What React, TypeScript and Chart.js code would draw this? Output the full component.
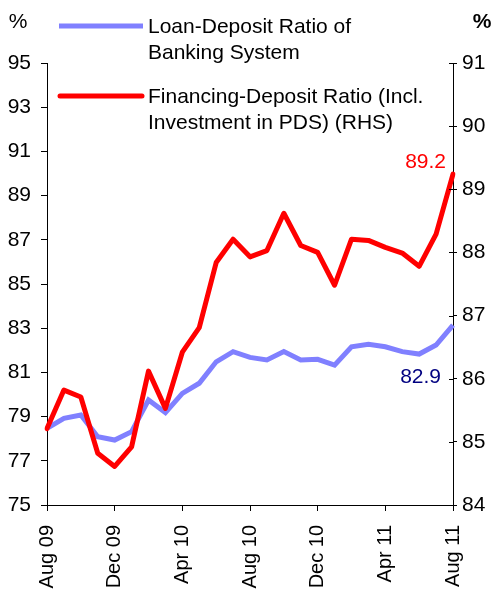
import React, { useEffect, useRef } from "react";
import { Chart, registerables } from "chart.js";

Chart.register(...registerables);

const months: string[] = [
  "Aug 09", "Sep 09", "Oct 09", "Nov 09", "Dec 09", "Jan 10", "Feb 10", "Mar 10",
  "Apr 10", "May 10", "Jun 10", "Jul 10", "Aug 10", "Sep 10", "Oct 10", "Nov 10",
  "Dec 10", "Jan 11", "Feb 11", "Mar 11", "Apr 11", "May 11", "Jun 11", "Jul 11", "Aug 11",
];

const loanDeposit: number[] = [
  78.47, 78.92, 79.07, 78.09, 77.94, 78.32, 79.75, 79.18, 80.05, 80.51, 81.48, 81.94,
  81.68, 81.56, 81.94, 81.56, 81.59, 81.33, 82.16, 82.27, 82.16, 81.94, 81.83, 82.24, 83.14,
];

const financingDeposit: number[] = [
  85.21, 85.82, 85.71, 84.82, 84.61, 84.92, 86.12, 85.53, 86.42, 86.81, 87.84, 88.21,
  87.93, 88.03, 88.62, 88.11, 88.0, 87.48, 88.21, 88.19, 88.08, 87.99, 87.78, 88.29, 89.24,
];

const loanLabel = ["Loan-Deposit Ratio of", "Banking System"];
const financingLabel = ["Financing-Deposit Ratio (Incl.", "Investment in PDS) (RHS)"];
const lastLoanText = "82.9";
const lastFinancingText = "89.2";

const FONT = "'Liberation Sans', Arial, sans-serif";
const BLUE = "#8080FF";
const RED = "#FF0000";

export default function App() {
  const ref = useRef<HTMLCanvasElement | null>(null);

  useEffect(() => {
    document.body.style.margin = "0";
    const canvas = ref.current;
    if (!canvas) return;

    const overlay = {
      id: "overlay",
      afterDraw(chart: any) {
        const ctx = chart.ctx;
        const y1 = chart.scales.y1;
        ctx.save();
        // inward tick marks on right axis
        ctx.strokeStyle = "#000";
        ctx.lineWidth = 1;
        y1.ticks.forEach((t: any) => {
          const yy = Math.round(y1.getPixelForValue(t.value)) + 0.5;
          ctx.beginPath();
          ctx.moveTo(y1.left - 4, yy);
          ctx.lineTo(y1.left, yy);
          ctx.stroke();
        });

        // legend
        ctx.lineWidth = 5;
        ctx.strokeStyle = BLUE;
        ctx.lineCap = "butt";
        ctx.beginPath();
        ctx.moveTo(59, 26);
        ctx.lineTo(143, 26);
        ctx.stroke();
        ctx.strokeStyle = RED;
        ctx.lineCap = "round";
        ctx.beginPath();
        ctx.moveTo(60, 96);
        ctx.lineTo(142, 96);
        ctx.stroke();

        ctx.fillStyle = "#000";
        ctx.font = `21px ${FONT}`;
        ctx.textAlign = "left";
        ctx.textBaseline = "middle";
        ctx.fillText(loanLabel[0], 148, 27);
        ctx.fillText(loanLabel[1], 148, 53);
        ctx.fillText(financingLabel[0], 148, 97);
        ctx.fillText(financingLabel[1], 148, 123);

        ctx.textAlign = "center";
        ctx.fillText("%", 18, 22);
        ctx.font = `bold 21px ${FONT}`;
        ctx.fillText("%", 482, 22);

        // end-value annotations
        ctx.font = `21px ${FONT}`;
        ctx.textAlign = "right";
        ctx.fillStyle = RED;
        ctx.fillText(lastFinancingText, 446, 162);
        ctx.fillStyle = "#000080";
        ctx.fillText(lastLoanText, 441, 377);
        ctx.restore();
      },
    };

    const yFont = { family: FONT, size: 21 };
    const xFont = { family: FONT, size: 20 };

    const chart = new Chart(canvas, {
      type: "line",
      data: {
        labels: months,
        datasets: [
          {
            label: loanLabel.join(" "),
            data: loanDeposit,
            yAxisID: "y",
            borderColor: BLUE,
            backgroundColor: BLUE,
            borderWidth: 5,
            pointRadius: 0,
            tension: 0,
            order: 2,
          },
          {
            label: financingLabel.join(" "),
            data: financingDeposit,
            yAxisID: "y1",
            borderColor: RED,
            backgroundColor: RED,
            borderWidth: 5,
            pointRadius: 0,
            tension: 0,
            borderCapStyle: "round",
            borderJoinStyle: "round",
            order: 1,
          },
        ],
      },
      options: {
        responsive: false,
        animation: false,
        devicePixelRatio: 1,
        layout: { padding: { top: 63, left: 0, right: 0, bottom: 0 } },
        plugins: {
          legend: { display: false },
          tooltip: { enabled: false },
        },
        scales: {
          x: {
            type: "category",
            offset: false,
            grid: {
              display: true,
              drawOnChartArea: false,
              drawTicks: true,
              tickLength: 6,
              color: "#000",
            },
            border: { display: true, color: "#000", width: 1 },
            ticks: {
              autoSkip: false,
              maxRotation: 90,
              minRotation: 90,
              padding: 14,
              color: "#000",
              font: xFont,
              callback: (_v: any, i: number) => (i % 4 === 0 ? months[i] : null),
            },
            afterFit: (s: any) => {
              s.height = 87;
            },
          },
          y: {
            position: "left",
            min: 75,
            max: 95,
            grid: {
              display: true,
              drawOnChartArea: false,
              drawTicks: true,
              tickLength: 6,
              color: "#000",
            },
            border: { display: true, color: "#000", width: 1 },
            ticks: { stepSize: 2, padding: 10, color: "#000", font: yFont },
            afterFit: (s: any) => {
              s.width = 47;
            },
          },
          y1: {
            position: "right",
            min: 84,
            max: 91,
            grid: {
              display: true,
              drawOnChartArea: false,
              drawTicks: true,
              tickLength: 4,
              color: "#000",
            },
            border: { display: true, color: "#000", width: 1 },
            ticks: { stepSize: 1, padding: 5, color: "#000", font: yFont },
            afterFit: (s: any) => {
              s.width = 43;
            },
          },
        },
      },
      plugins: [overlay],
    } as any);

    return () => chart.destroy();
  }, []);

  return (
    <div style={{ width: 496, height: 592, position: "relative", background: "#fff" }}>
      <canvas ref={ref} width={496} height={592} style={{ display: "block" }} />
    </div>
  );
}
